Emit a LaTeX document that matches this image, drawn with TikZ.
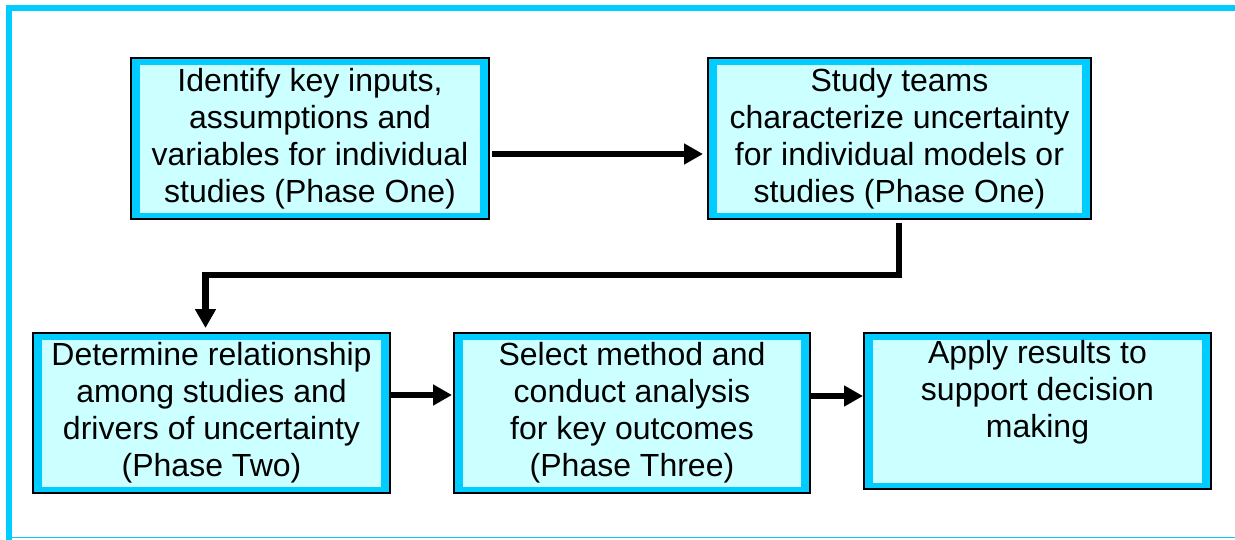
\documentclass[tikz,border=0pt]{standalone}
\usepackage{fontspec}
\setmainfont{Liberation Sans}
\usetikzlibrary{arrows.meta}
\definecolor{cyanB}{HTML}{00CCFF}
\definecolor{lightC}{HTML}{CCFFFF}
\begin{document}
\begin{tikzpicture}[x=1pt,y=-1pt,
  box/.style={draw=black, line width=2pt, fill=cyanB, rectangle, inner sep=0pt, outer sep=0pt,
    align=center, font=\fontsize{32}{37}\selectfont,
    execute at begin node={\rule{0pt}{30pt}},
    path picture={\fill[lightC] ([xshift=9pt,yshift=-7pt]path picture bounding box.north west) rectangle ([xshift=-9pt,yshift=6pt]path picture bounding box.south east);}},
  conn/.style={line width=6.5pt, -{Triangle[width=20pt,length=19pt]}}]
\useasboundingbox (0,0) rectangle (1235,539);
% outer frame
\draw[cyanB, line width=6pt] (1240,8) -- (9,8) -- (9,542);
\draw[cyanB, line width=1.5pt] (9,537.5) -- (1240,537.5);
% boxes
\node[box, minimum width=358pt, minimum height=161pt] (b1) at (310,138.5)
  {Identify key inputs,\\assumptions and\\variables for individual\\studies (Phase One)};
\node[box, minimum width=383pt, minimum height=161pt] (b2) at (899.5,138.5)
  {Study teams\\characterize uncertainty\\for individual models or\\studies (Phase One)};
\node[box, minimum width=357pt, minimum height=160pt] (b3) at (211.5,413)
  {Determine relationship\\among studies and\\drivers of uncertainty\\(Phase Two)};
\node[box, minimum width=356pt, minimum height=160pt] (b4) at (632,413)
  {Select method and\\conduct analysis\\for key outcomes\\(Phase Three)};
\node[box, minimum width=347pt, minimum height=156pt] (b5) at (1037.5,411)
  {Apply results to\\support decision\\making\\\vphantom{(}};
% connectors
\coordinate (a1) at ([yshift=-15.5pt]b1.east);
\draw[conn, shorten <=3pt, shorten >=5pt] (a1) -- (a1 -| b2.west);
\coordinate (k1) at (899,275);
\coordinate (k2) at (205.5,275);
\draw[conn, shorten <=4pt, shorten >=5pt] (b2.south -| k1) -- (k1) -- (k2) -- (k2 |- b3.north);
\coordinate (a2) at ([yshift=18pt]b3.east);
\draw[conn, shorten >=2pt] (a2) -- (a2 -| b4.west);
\coordinate (a3) at ([yshift=17pt]b4.east);
\draw[conn, shorten <=1pt, shorten >=1pt] (a3) -- (a3 -| b5.west);
\end{tikzpicture}
\end{document}
